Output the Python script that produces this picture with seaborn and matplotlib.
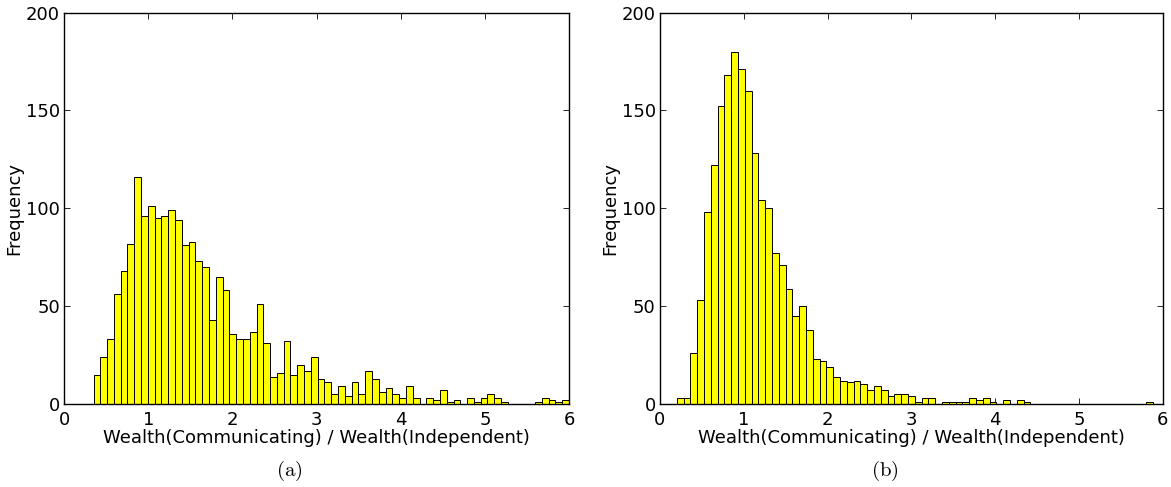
import numpy as np
import matplotlib
matplotlib.use("Agg")
import matplotlib.pyplot as plt
import seaborn as sns

# histogram counts (70 bins each)
counts_a = [15, 24, 33, 56, 68, 82, 116, 96, 101, 95, 96, 99, 94, 81, 83, 73, 70,
            43, 65, 58, 36, 33, 33, 37, 51, 31, 14, 16, 32, 15, 20, 17, 24, 13, 11,
            5, 9, 4, 11, 5, 17, 13, 6, 8, 5, 3, 9, 3, 0, 3, 2, 7, 1, 2, 0, 3, 1, 3,
            5, 3, 1, 0, 0, 0, 0, 1, 3, 2, 1, 2]
counts_b = [3, 3, 26, 53, 98, 122, 152, 168, 180, 171, 160, 128, 104, 100, 77, 71,
            59, 45, 50, 38, 23, 22, 19, 14, 12, 11, 12, 10, 7, 9, 7, 4, 5, 5, 4, 1,
            3, 3, 0, 1, 1, 1, 1, 3, 2, 3, 1, 0, 2, 0, 2, 1, 0, 0, 0, 0, 0, 0, 0, 0,
            0, 0, 0, 0, 0, 0, 0, 0, 0, 1]
range_a = (0.35, 6.0)
range_b = (0.20, 5.88)
captions = ["(a)", "(b)"]
xlabel = "Wealth(Communicating) / Wealth(Independent)"
ylabel = "Frequency"

sns.set_style("ticks")
plt.rcParams["font.family"] = ["DejaVu Sans"]
plt.rcParams["mathtext.fontset"] = "cm"
plt.rcParams.update({"text.color": "black", "axes.labelcolor": "black",
                     "xtick.color": "black", "ytick.color": "black",
                     "axes.edgecolor": "black"})

fig = plt.figure(figsize=(11.71, 4.87), dpi=100)
axes = [fig.add_axes([0.0547, 0.1704, 0.4312, 0.8039]),
        fig.add_axes([0.5636, 0.1704, 0.4295, 0.8039])]

for ax, counts, rng in zip(axes, [counts_a, counts_b], [range_a, range_b]):
    edges = np.linspace(rng[0], rng[1], len(counts) + 1)
    centers = (edges[:-1] + edges[1:]) / 2
    sns.histplot(x=centers, weights=counts, bins=len(counts), binrange=rng, ax=ax,
                 color="#ffff00", edgecolor="black", linewidth=0.7, alpha=1)
    ax.set_xlim(0, 6)
    ax.set_ylim(0, 200)
    ax.set_xticks(range(7))
    ax.set_yticks(range(0, 201, 50))
    ax.tick_params(direction="in", top=True, right=True, length=4, width=0.6,
                   labelsize=13)
    ax.tick_params(axis="x", pad=5)
    ax.tick_params(axis="y", pad=3)
    for sp in ax.spines.values():
        sp.set_linewidth(1.0)
    ax.set_xlabel(xlabel, fontsize=13, labelpad=0)
    ax.set_ylabel(ylabel, fontsize=13, labelpad=2)

for cap, xc in zip(captions, [289, 885]):
    fig.text(xc / 1171, 1 - 471 / 487, r"$\mathrm{%s}$" % cap, ha="center", va="center",
             fontsize=15)

fig.savefig("out.png", dpi=100)
